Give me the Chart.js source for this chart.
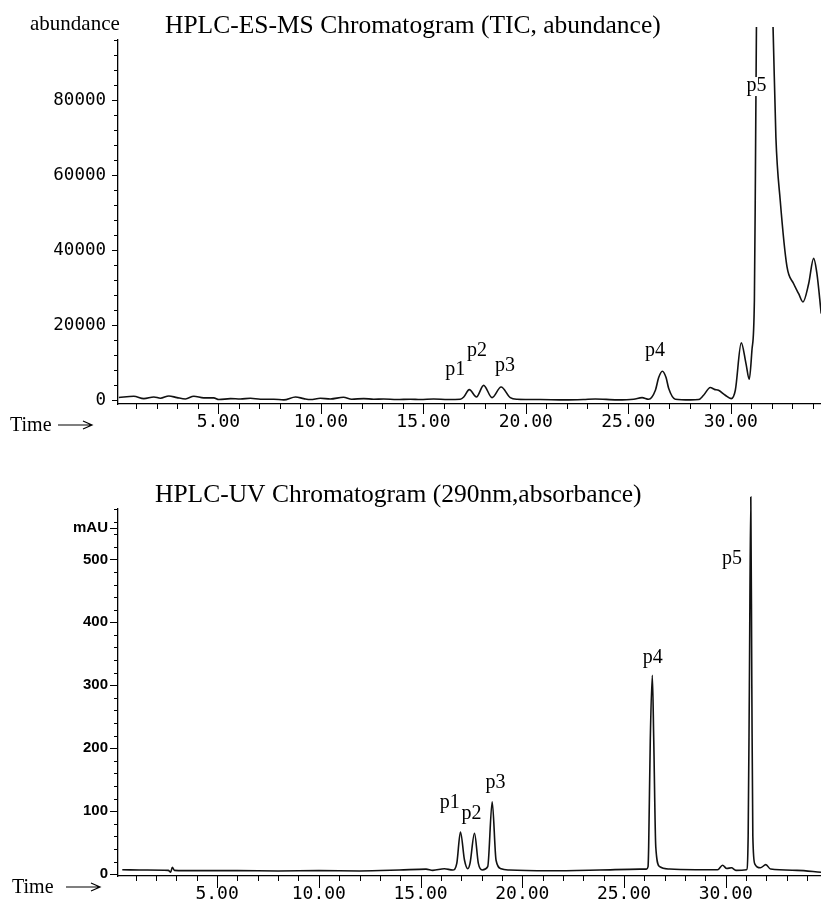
<!DOCTYPE html>
<html>
<head>
<meta charset="utf-8">
<script src="https://cdn.jsdelivr.net/npm/chart.js@4.4.0/dist/chart.umd.min.js"></script>
<style>
  body { margin: 0; background: #fff; width: 821px; height: 903px; overflow: hidden; position: relative; }
  canvas { position: absolute; left: 0; }
  #msChart { top: 0; }
  #uvChart { top: 460px; }
</style>
</head>
<body>
<canvas id="msChart" width="821" height="440"></canvas>
<canvas id="uvChart" width="821" height="443"></canvas>
<script>
// TIC trace (abundance vs minutes)
var msTime = [0.14, 0.87, 1.36, 1.85, 2.17, 2.58, 2.98, 3.39, 3.8, 4.28, 4.77, 5.02, 5.59, 6.07, 6.56, 7.05, 7.7, 8.19,
  8.76, 9.16, 9.49, 9.97, 10.46, 11.1, 11.5, 12.09, 12.57, 13.06, 13.71, 14.36, 14.85, 15.5, 16.2, 16.8, 16.97, 17.24,
  17.59, 17.94, 18.35, 18.79, 19.24, 19.57, 20.7, 21.9, 22.8, 23.39, 24.45, 25.26, 25.67, 25.99, 26.32, 26.48, 26.66,
  26.84, 26.97, 27.29, 28.02, 28.43, 28.67, 29.0, 29.2, 29.4, 29.73, 30.02, 30.22, 30.51, 30.74, 30.9, 31.03, 31.15,
  31.2, 31.25, 31.6, 32.06, 32.2, 32.41, 32.74, 33.06, 33.31, 33.52, 33.8, 34.04, 34.2, 34.41];
var msAbundance = [720, 1070, 440, 880, 530, 1150, 700, 350, 1070, 620, 620, 180, 440, 350, 530, 270, 270, 90,
  880, 440, 180, 530, 350, 790, 270, 440, 270, 350, 180, 270, 180, 350, 200, 270, 880, 2840,
  880, 3960, 700, 3520, 700, 270, 180, 90, 200, 350, 90, 270, 700, 270, 2670, 6050, 7730,
  6050, 3110, 270, 90, 180, 1330, 3380, 2900, 2670, 1330, 440, 2670, 15290, 9780, 5600, 13330, 26670,
  60000, 99500, 170000, 99500, 70000, 53300, 35600, 31100, 28400, 26200, 31100, 37800, 33800, 23100];

// UV 290 nm trace (mAU vs minutes)
var uvTime = [0.34, 1.5, 2.6, 2.72, 2.8, 2.9, 4, 6, 8, 10, 12, 13.96, 15.27, 15.6, 16.17, 16.58, 16.78, 16.96, 17.16,
  17.32, 17.43, 17.65, 17.84, 18.03, 18.3, 18.52, 18.71, 18.96, 19.37, 21.34, 23.8, 25.77, 26.1, 26.18, 26.21, 26.29,
  26.39, 26.46, 26.56, 26.75, 27.24, 28.5, 29.6, 29.84, 30.05, 30.28, 30.5, 31.02, 31.1, 31.16, 31.23, 31.28, 31.33,
  31.43, 31.7, 31.97, 32.2, 33.5, 34.68];
var uvAbsorbance = [7, 6.5, 6, 3, 11, 6, 5.5, 5.5, 5, 5.5, 5, 6.5, 8, 6, 8.5, 6.5, 17, 67, 22,
  8.5, 17, 65, 17, 6.5, 11.8, 115, 22, 8.5, 6.5, 5.3, 6.5, 8, 8, 12, 43, 213,
  316, 213, 43, 12, 8, 7, 7, 14, 9, 10, 6, 7, 60, 300, 599, 300, 60,
  16, 10, 15, 8, 6, 3];

var minuteTicks = [];
for (var m = 1; m <= 34; m++) minuteTicks.push(m);
var msYTicks = [];
for (var a = 0; a <= 96000; a += 4000) msYTicks.push(a);
var uvYTicks = [];
for (var u = 0; u <= 580; u += 20) uvYTicks.push(u);
uvYTicks.push(550);
uvYTicks.sort(function (p, q) { return p - q; });

var peakNames = ['p1', 'p2', 'p3', 'p4', 'p5'];
var msLabelTime = [16.56, 17.61, 18.98, 26.3, 31.25];
var msLabelValue = [6700, 11800, 7800, 11800, 82400];
var uvLabelTime = [16.44, 17.5, 18.68, 26.41, 30.3];
var uvLabelValue = [105, 88, 137, 335, 492];

function toPoints(xs, ys) {
  return xs.map(function (t, i) { return { x: t, y: ys[i] }; });
}

function peakList(times, values) {
  return peakNames.map(function (n, i) { return { name: n, t: times[i], v: values[i] }; });
}

// draws tick marks (long/short), peak names, titles and the "Time ->" caption
function panelDecor(cfg) {
  return {
    id: 'panelDecor',
    afterDraw: function (chart) {
      var ctx = chart.ctx, x = chart.scales.x, y = chart.scales.y;
      ctx.save();
      ctx.strokeStyle = '#000';
      ctx.lineWidth = 1;
      ctx.beginPath();
      x.ticks.forEach(function (t) {
        var px = Math.round(x.getPixelForValue(t.value)) + 0.5;
        var len = t.value % 5 === 0 ? cfg.xMajor : cfg.xMinor;
        ctx.moveTo(px, x.top);
        ctx.lineTo(px, x.top + len);
      });
      y.ticks.forEach(function (t) {
        var py = Math.round(y.getPixelForValue(t.value)) + 0.5;
        var len = cfg.isMajorY(t.value) ? cfg.yMajor : cfg.yMinor;
        ctx.moveTo(y.right, py);
        ctx.lineTo(y.right - len, py);
      });
      ctx.stroke();

      ctx.font = '20px "Liberation Serif"';
      ctx.textAlign = 'center';
      ctx.textBaseline = 'alphabetic';
      cfg.peaks.forEach(function (p) {
        var px = x.getPixelForValue(p.t), py = y.getPixelForValue(p.v);
        var w = ctx.measureText(p.name).width;
        ctx.fillStyle = '#fff';
        ctx.fillRect(px - w / 2 - 1, py - 14, w + 2, 19);
        ctx.fillStyle = '#000';
        ctx.fillText(p.name, px, py);
      });

      ctx.textAlign = 'left';
      cfg.texts.forEach(function (s) {
        ctx.font = s.font;
        ctx.fillText(s.text, s.x, s.y);
      });

      var ar = cfg.arrow;
      ctx.lineWidth = 1.2;
      ctx.beginPath();
      ctx.moveTo(ar.x1, ar.y);
      ctx.lineTo(ar.x2, ar.y);
      ctx.moveTo(ar.x2 - 9, ar.y - 4);
      ctx.lineTo(ar.x2, ar.y);
      ctx.lineTo(ar.x2 - 9, ar.y + 4);
      ctx.stroke();
      ctx.restore();
    }
  };
}

function panel(canvasId, opt) {
  return new Chart(document.getElementById(canvasId), {
    type: 'line',
    data: {
      datasets: [{
        data: opt.points,
        borderColor: '#111',
        borderWidth: 1.6,
        pointRadius: 0,
        cubicInterpolationMode: 'monotone',
        clip: opt.clip
      }]
    },
    options: {
      responsive: false,
      animation: false,
      events: [],
      layout: { padding: { top: opt.padTop, left: 0, right: 0, bottom: 0 } },
      plugins: { legend: { display: false }, tooltip: { enabled: false } },
      scales: {
        x: {
          type: 'linear',
          min: opt.xMin,
          max: opt.xMax,
          afterBuildTicks: function (s) { s.ticks = minuteTicks.map(function (v) { return { value: v }; }); },
          afterFit: function (s) { s.height = opt.xHeight; },
          grid: { display: false },
          border: { display: true, color: '#000', width: 1.3 },
          ticks: {
            autoSkip: false,
            maxRotation: 0,
            padding: 0,
            color: '#000',
            font: { family: 'DejaVu Sans Mono', size: 18 },
            callback: function (v) { return v % 5 === 0 ? v.toFixed(2) : ''; }
          }
        },
        y: {
          min: opt.yMin,
          max: opt.yMax,
          afterBuildTicks: function (s) { s.ticks = opt.yTicks.map(function (v) { return { value: v }; }); },
          afterFit: function (s) { s.width = 118; },
          grid: { display: false },
          border: { display: true, color: '#000', width: 1.3 },
          ticks: {
            autoSkip: false,
            padding: opt.yPad,
            color: '#000',
            font: opt.yFont,
            callback: opt.yLabel
          }
        }
      }
    },
    plugins: [panelDecor(opt.decor)]
  });
}

panel('msChart', {
  points: toPoints(msTime, msAbundance),
  clip: { left: 0, right: 0, bottom: 0, top: 13 },
  padTop: 40,
  xMin: 0.1, xMax: 34.4, xHeight: 36,
  yMin: -1000, yMax: 96000, yTicks: msYTicks, yPad: 4,
  yFont: { family: 'DejaVu Sans Mono', size: 17.5 },
  yLabel: function (v) { return v % 20000 === 0 ? String(v) : ''; },
  decor: {
    xMajor: 10, xMinor: 5, yMajor: 6, yMinor: 4,
    isMajorY: function (v) { return v % 20000 === 0; },
    peaks: peakList(msLabelTime, msLabelValue),
    texts: [
      { text: 'HPLC-ES-MS Chromatogram (TIC, abundance)', x: 165, y: 33, font: '25.5px "Liberation Serif"' },
      { text: 'abundance', x: 30, y: 30, font: '21px "Liberation Serif"' },
      { text: 'Time', x: 10, y: 431, font: '20px "Liberation Serif"' }
    ],
    arrow: { x1: 58, x2: 92, y: 425 }
  }
});

panel('uvChart', {
  points: toPoints(uvTime, uvAbsorbance),
  clip: false,
  padTop: 49,
  xMin: 0.13, xMax: 34.68, xHeight: 27,
  yMin: -3, yMax: 580, yTicks: uvYTicks, yPad: 2,
  yFont: { family: 'Liberation Sans', size: 15, weight: 'bold' },
  yLabel: function (v) { return v === 550 ? 'mAU' : (v % 100 === 0 ? String(v) : ''); },
  decor: {
    xMajor: 12, xMinor: 5, yMajor: 8, yMinor: 4,
    isMajorY: function (v) { return v % 100 === 0 || v === 550; },
    peaks: peakList(uvLabelTime, uvLabelValue),
    texts: [
      { text: 'HPLC-UV Chromatogram (290nm,absorbance)', x: 155, y: 42, font: '25.5px "Liberation Serif"' },
      { text: 'Time', x: 12, y: 433, font: '20px "Liberation Serif"' }
    ],
    arrow: { x1: 66, x2: 100, y: 427 }
  }
});
</script>
</body>
</html>
